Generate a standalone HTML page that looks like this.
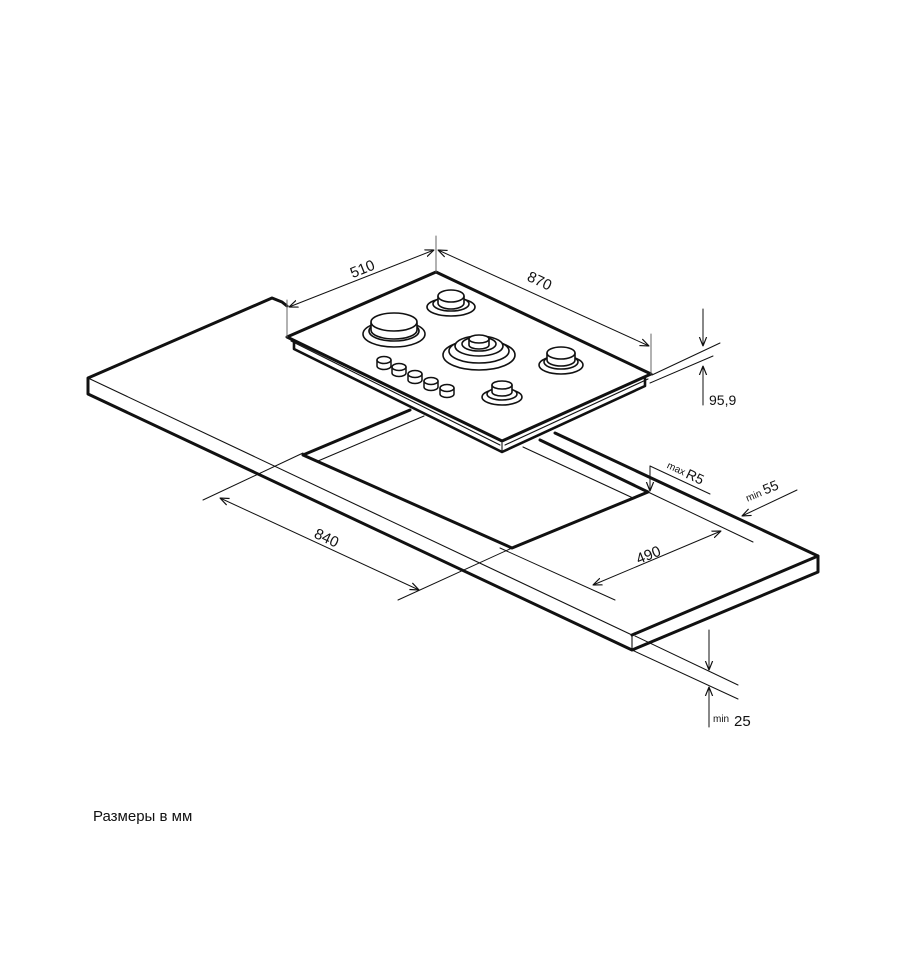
<!DOCTYPE html>
<html><head><meta charset="utf-8"><style>
html,body{margin:0;padding:0;background:#fff;width:907px;height:960px;overflow:hidden}
svg text{font-family:"Liberation Sans",sans-serif;fill:#111}
</style></head><body>
<svg width="907" height="960" viewBox="0 0 907 960" xmlns="http://www.w3.org/2000/svg">
<defs>
<marker id="a" viewBox="0 0 10 10" refX="10" refY="5" markerWidth="9" markerHeight="9" orient="auto-start-reverse" markerUnits="userSpaceOnUse">
<path d="M0,1 L10,5 L0,9" fill="none" stroke="#111" stroke-width="1.3"/></marker>
</defs>
<g fill="none" stroke="#111" stroke-linejoin="round" stroke-linecap="round">
<g stroke-width="3">
<polyline points="287,306 282,302 272,298 88,378 88,394 632,650 818,572 818,556 555,433"/>
<line x1="632" y1="635" x2="818" y2="556"/>
<polyline points="410,410 303,455 512,548 648,492 540,440"/>
</g>
<g stroke-width="1.1">
<line x1="88" y1="378" x2="632" y2="635"/>
<line x1="632" y1="635" x2="632" y2="650"/>
<line x1="318" y1="461" x2="424" y2="416"/>
<line x1="523" y1="447" x2="633" y2="498"/>
</g>
<polygon points="287,337 436,272 651,374 502,441" fill="#fff" stroke-width="3"/>
<g stroke-width="1.1">
<line x1="291" y1="341" x2="500" y2="445"/>
<line x1="505" y1="445" x2="648" y2="379"/>
</g>
<g stroke-width="2.6">
<polyline points="294,341 294,349 502,452 645,386 645,378"/>
</g>
<line x1="502" y1="443" x2="502" y2="452" stroke-width="1.1"/>
<g stroke-width="1.6" fill="#fff">
<ellipse cx="394" cy="334" rx="31" ry="13"/><ellipse cx="394" cy="331" rx="25" ry="10"/>
<path d="M371,323 v7 a23,9 0 0 0 46,0 v-7"/><ellipse cx="394" cy="322" rx="23" ry="9"/>
<ellipse cx="451" cy="307" rx="24" ry="9"/><ellipse cx="451" cy="304" rx="18" ry="7"/>
<path d="M438,296 v7 a13,6 0 0 0 26,0 v-7"/><ellipse cx="451" cy="296" rx="13" ry="6"/>
<ellipse cx="479" cy="355" rx="36" ry="15"/><ellipse cx="479" cy="351" rx="30" ry="12"/>
<ellipse cx="479" cy="346" rx="24" ry="10"/><ellipse cx="479" cy="344" rx="17" ry="7"/>
<path d="M469,339 v6 a10,4 0 0 0 20,0 v-6"/><ellipse cx="479" cy="339" rx="10" ry="4"/>
<ellipse cx="561" cy="365" rx="22" ry="9"/><ellipse cx="561" cy="362" rx="17" ry="7"/>
<path d="M547,353 v7 a14,6 0 0 0 28,0 v-7"/><ellipse cx="561" cy="353" rx="14" ry="6"/>
<ellipse cx="502" cy="397" rx="20" ry="8"/><ellipse cx="502" cy="394" rx="15" ry="6"/>
<path d="M492,385 v7 a10,4 0 0 0 20,0 v-7"/><ellipse cx="502" cy="385" rx="10" ry="4"/>
</g>
<g stroke-width="1.5" fill="#fff">
<path d="M377,360 v6 a7,3.5 0 0 0 14,0 v-6"/><ellipse cx="384" cy="360" rx="7" ry="3.5"/>
<path d="M392,367 v6 a7,3.5 0 0 0 14,0 v-6"/><ellipse cx="399" cy="367" rx="7" ry="3.5"/>
<path d="M408,374 v6 a7,3.5 0 0 0 14,0 v-6"/><ellipse cx="415" cy="374" rx="7" ry="3.5"/>
<path d="M424,381 v6 a7,3.5 0 0 0 14,0 v-6"/><ellipse cx="431" cy="381" rx="7" ry="3.5"/>
<path d="M440,388 v6 a7,3.5 0 0 0 14,0 v-6"/><ellipse cx="447" cy="388" rx="7" ry="3.5"/>
</g>
<g stroke-width="1">
<line x1="287" y1="300" x2="287" y2="337" stroke="#666"/>
<line x1="436" y1="236" x2="436" y2="272" stroke="#666"/>
<line x1="651" y1="334" x2="651" y2="374" stroke="#666"/>
<line x1="289" y1="307" x2="434" y2="250" marker-start="url(#a)" marker-end="url(#a)"/>
<line x1="438" y1="250" x2="649" y2="346" marker-start="url(#a)" marker-end="url(#a)"/>
<line x1="652" y1="375" x2="720" y2="343"/>
<line x1="650" y1="383" x2="713" y2="356"/>
<line x1="703" y1="309" x2="703" y2="346" marker-end="url(#a)"/>
<line x1="703" y1="405" x2="703" y2="366" marker-end="url(#a)"/>
<line x1="303" y1="453" x2="203" y2="500"/>
<line x1="512" y1="548" x2="398" y2="600"/>
<line x1="220" y1="498" x2="419" y2="590" marker-start="url(#a)" marker-end="url(#a)"/>
<line x1="500" y1="548" x2="615" y2="600"/>
<line x1="648" y1="492" x2="753" y2="542"/>
<line x1="593" y1="585" x2="721" y2="531" marker-start="url(#a)" marker-end="url(#a)"/>
<line x1="650" y1="466" x2="650" y2="491" marker-end="url(#a)"/>
<line x1="650" y1="466" x2="710" y2="494"/>
<line x1="797" y1="490" x2="742" y2="516" marker-end="url(#a)"/>
<line x1="635" y1="636" x2="738" y2="685"/>
<line x1="632" y1="650" x2="738" y2="699"/>
<line x1="709" y1="630" x2="709" y2="670" marker-end="url(#a)"/>
<line x1="709" y1="727" x2="709" y2="687" marker-end="url(#a)"/>
</g>
</g>
<text x="362" y="274" font-size="15" text-anchor="middle" transform="rotate(-22 362 268)">510</text>
<text x="540" y="286" font-size="15" text-anchor="middle" transform="rotate(25 540 280)">870</text>
<text x="709" y="405" font-size="14">95,9</text>
<text x="327" y="543" font-size="15" text-anchor="middle" transform="rotate(25 327 537)">840</text>
<text x="648" y="560" font-size="15" text-anchor="middle" transform="rotate(-22 648 554)">490</text>
<g transform="rotate(25 668 464)"><text x="668" y="468" font-size="10">max</text><text x="689" y="469" font-size="14">R5</text></g>
<g transform="rotate(-22 746 498)"><text x="746" y="502" font-size="10">min</text><text x="765" y="502" font-size="14">55</text></g>
<text x="713" y="722" font-size="10">min</text><text x="734" y="726" font-size="15">25</text>
<text x="93" y="821" font-size="15">Размеры в мм</text>
</svg>
</body></html>
